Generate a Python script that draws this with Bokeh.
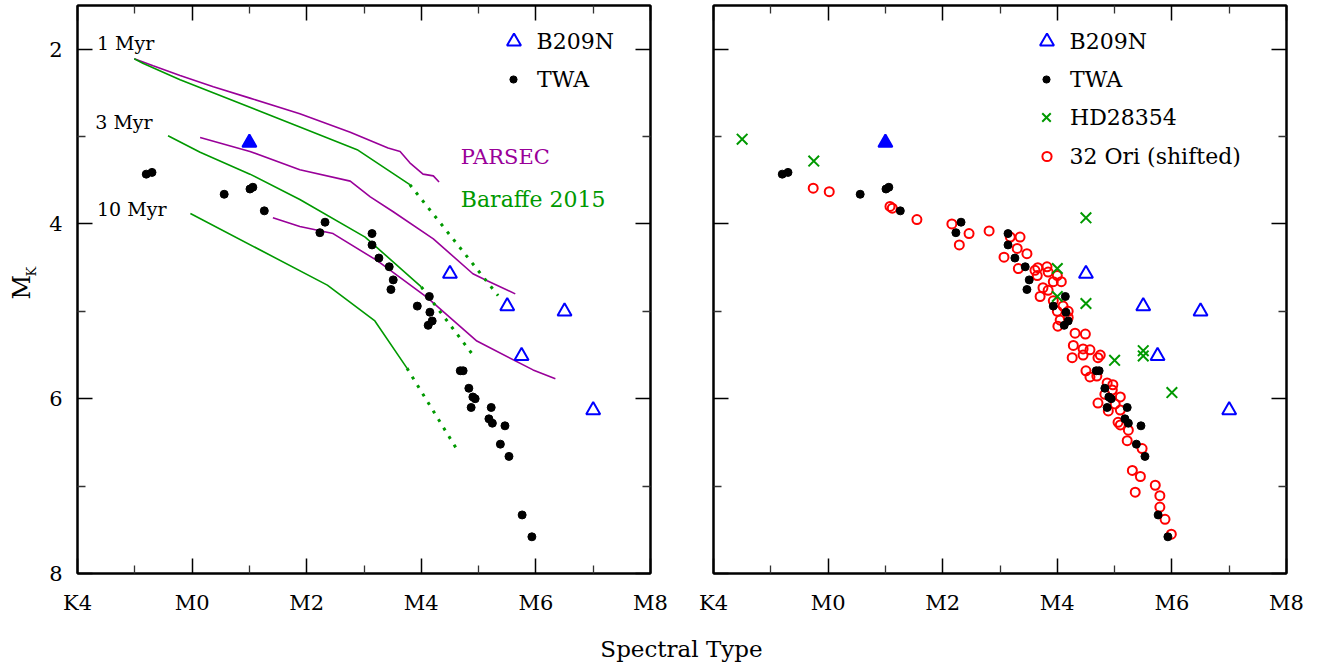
import numpy as np
from bokeh.plotting import figure
from bokeh.models import Range1d, LinearAxis, FixedTicker, Label, Legend, LegendItem
from bokeh.layouts import row, column
from bokeh.embed import file_html
from bokeh.resources import INLINE

# ---------------- data ----------------
spt_major = [-2, 0, 2, 4, 6, 8]
spt_labels = ["K4", "M0", "M2", "M4", "M6", "M8"]
spt_minor = [-1, 1, 3, 5, 7]
mk_major = [2, 4, 6, 8]
mk_labels = ["2", "4", "6", "8"]
mk_minor = [3, 5, 7]

twa_spt = [-0.80, -0.70, 0.56, 1.01, 1.06, 1.26, 2.32, 2.23, 3.14, 3.14, 3.26, 3.44, 3.51, 3.47,
           4.14, 3.93, 4.15, 4.19, 4.12, 4.68, 4.73, 4.83, 4.90, 4.94, 4.87, 5.22, 5.18, 5.24,
           5.46, 5.38, 5.53, 5.76, 5.93]
twa_mk = [3.43, 3.41, 3.66, 3.60, 3.58, 3.85, 3.98, 4.10, 4.11, 4.24, 4.39, 4.49, 4.64, 4.75,
          4.83, 4.94, 5.01, 5.11, 5.16, 5.68, 5.68, 5.88, 5.98, 6.00, 6.10, 6.10, 6.23, 6.28,
          6.31, 6.52, 6.66, 7.33, 7.58]

b209n_spt = [4.5, 5.5, 6.5, 5.75, 7.0]
b209n_mk = [4.57, 4.94, 5.0, 5.51, 6.13]
b209n_filled_spt = [1.0]
b209n_filled_mk = [3.07]

hd_spt = [-1.5, -0.25, 4.5, 4.0, 4.0, 4.5, 5.0, 5.5, 5.5, 6.0]
hd_mk = [3.03, 3.28, 3.93, 4.51, 4.83, 4.91, 5.56, 5.45, 5.51, 5.93]

ori_spt = [-0.26, 0.02, 1.08, 1.12, 1.55, 2.16, 2.46, 2.29, 2.81, 3.18, 3.35, 3.30, 3.47, 3.07,
           3.32, 3.61, 3.66, 3.65, 3.82, 3.84, 4.00, 3.93, 4.07, 3.75, 3.84, 3.70, 3.93, 4.10,
           4.00, 4.19, 4.19, 4.05, 4.01, 4.31, 4.49, 4.28, 4.45, 4.57, 4.45, 4.26, 4.75, 4.71,
           4.50, 4.57, 4.69, 4.87, 4.97, 4.96, 4.83, 5.10, 4.71, 5.01, 5.10, 4.89, 5.06, 5.10,
           5.24, 5.22, 5.48, 5.31, 5.45, 5.36, 5.71, 5.79, 5.79, 5.88, 5.99]
ori_mk = [3.59, 3.63, 3.80, 3.82, 3.95, 4.00, 4.11, 4.24, 4.08, 4.15, 4.15, 4.28, 4.34, 4.38,
          4.51, 4.53, 4.50, 4.59, 4.49, 4.55, 4.59, 4.66, 4.66, 4.73, 4.76, 4.83, 4.88, 4.94,
          5.00, 5.00, 5.07, 5.10, 5.17, 5.25, 5.26, 5.39, 5.43, 5.44, 5.50, 5.53, 5.50, 5.53,
          5.68, 5.75, 5.74, 5.82, 5.84, 5.90, 5.95, 5.98, 6.05, 6.06, 6.13, 6.14, 6.27, 6.30,
          6.36, 6.48, 6.57, 6.82, 6.89, 7.07, 6.99, 7.11, 7.24, 7.38, 7.55]

# PARSEC isochrones
parsec_1myr_spt = [-1.01, -0.68, -0.21, 0.37, 1.01, 1.88, 2.76, 2.98, 3.42, 3.63, 3.80, 4.03, 4.21, 4.31]
parsec_1myr_mk = [2.11, 2.19, 2.30, 2.43, 2.56, 2.74, 2.95, 3.01, 3.13, 3.17, 3.30, 3.43, 3.45, 3.52]
parsec_3myr_spt = [0.14, 1.01, 1.88, 2.76, 3.11, 3.51, 4.21, 4.90, 5.15, 5.64]
parsec_3myr_mk = [3.01, 3.17, 3.38, 3.51, 3.69, 3.86, 4.17, 4.57, 4.65, 4.80]
parsec_10myr_spt = [1.41, 1.88, 2.46, 3.23, 4.10, 4.97, 5.95, 6.34]
parsec_10myr_mk = [3.93, 4.03, 4.11, 4.42, 4.84, 5.34, 5.67, 5.77]

# Baraffe 2015 isochrones (solid part and dotted extension)
baraffe_1myr_spt = [-1.01, -0.86, -0.21, 1.88, 2.88, 3.80]
baraffe_1myr_mk = [2.11, 2.16, 2.35, 2.89, 3.15, 3.55]
baraffe_1myr_ext_spt = [3.80, 5.34]
baraffe_1myr_ext_mk = [3.55, 4.82]
baraffe_3myr_spt = [-0.42, 0.14, 1.01, 1.88, 3.02, 4.00]
baraffe_3myr_mk = [2.99, 3.18, 3.43, 3.72, 4.15, 4.72]
baraffe_3myr_ext_spt = [4.00, 4.89]
baraffe_3myr_ext_mk = [4.72, 5.49]
baraffe_10myr_spt = [-0.03, 2.36, 3.19, 3.75]
baraffe_10myr_mk = [3.88, 4.70, 5.11, 5.65]
baraffe_10myr_ext_spt = [3.75, 4.64]
baraffe_10myr_ext_mk = [5.65, 6.60]

# ---------------- style ----------------
FONT = "DejaVu Serif"
PURPLE = "#990099"
GREEN = "#009900"
BLUE = "#0000ff"
RED = "#ff0000"
FRAME_W = 573
FRAME_H = 572
BORDER_TOP = 5
BORDER_BOTTOM = 40
PANEL_H = BORDER_TOP + FRAME_H + BORDER_BOTTOM
FRAME_BOTTOM = BORDER_TOP + FRAME_H


def add_axis(p, side, major, minor, labels, show, standoff):
    ax = LinearAxis(
        ticker=FixedTicker(ticks=major, minor_ticks=minor),
        major_tick_in=15, major_tick_out=0, minor_tick_in=8, minor_tick_out=0,
        axis_line_width=2, axis_line_color="black",
        major_tick_line_width=1.5, minor_tick_line_width=1.3,
        major_tick_line_color="black", minor_tick_line_color="#333333",
        major_label_text_font=FONT,
    )
    if show:
        ax.major_label_text_font_size = "21px"
        ax.major_label_text_color = "black"
        ax.major_label_standoff = standoff
        ax.major_label_overrides = {k: v for k, v in zip(major, labels)}
    else:
        ax.major_label_text_font_size = "1px"
        ax.major_label_text_color = None
        ax.major_label_standoff = 0
    p.add_layout(ax, side)


def make_panel(border_left, border_right, ylabels):
    p = figure(width=border_left + FRAME_W + border_right, height=PANEL_H,
               x_range=Range1d(-2, 8), y_range=Range1d(8.0, 1.5),
               output_backend="svg", toolbar_location=None,
               x_axis_type=None, y_axis_type=None,
               min_border_left=border_left, min_border_right=border_right,
               min_border_top=BORDER_TOP, min_border_bottom=BORDER_BOTTOM)
    p.outline_line_color = "black"
    p.outline_line_width = 2
    p.background_fill_color = "white"
    p.border_fill_color = "white"
    add_axis(p, "below", spt_major, spt_minor, spt_labels, True, 17)
    add_axis(p, "above", spt_major, spt_minor, spt_labels, False, 0)
    add_axis(p, "left", mk_major, mk_minor, mk_labels, ylabels, 15)
    add_axis(p, "right", mk_major, mk_minor, mk_labels, False, 0)
    return p


def add_key(p, renderer, label, w, cx, cy):
    h = 36
    leg = Legend(items=[LegendItem(label=label, renderers=[renderer])],
                 location=(cx - w / 2.0, FRAME_BOTTOM - (cy + h / 2.0)),
                 glyph_width=w, glyph_height=h, label_height=h, label_width=20,
                 label_standoff=int(24 - w / 2.0), padding=0, margin=0, spacing=0,
                 border_line_color=None, background_fill_alpha=0,
                 label_text_font=FONT, label_text_font_size="22px", label_text_color="black")
    p.add_layout(leg)


# ---------------- y-axis title strip ----------------
P0_W = 40
p0 = figure(width=P0_W, height=PANEL_H, x_range=Range1d(0, P0_W), y_range=Range1d(0, PANEL_H),
            output_backend="svg", toolbar_location=None, x_axis_type=None, y_axis_type=None,
            min_border=0)
p0.outline_line_color = None
# positions given as distance from the strip's bottom edge
p0.add_layout(Label(x=21, y=PANEL_H - 306, text="M", angle=np.pi / 2, text_font=FONT,
                    text_font_size="24px", text_align="center", text_baseline="middle",
                    text_color="black"))
p0.add_layout(Label(x=31, y=PANEL_H - 289, text="K", angle=np.pi / 2, text_font=FONT,
                    text_font_size="13px", text_align="center", text_baseline="middle",
                    text_color="black"))

# ---------------- left panel ----------------
p1 = make_panel(77 - P0_W, 30, True)

p1.line(parsec_1myr_spt, parsec_1myr_mk, line_color=PURPLE, line_width=1.6)
p1.line(parsec_3myr_spt, parsec_3myr_mk, line_color=PURPLE, line_width=1.6)
p1.line(parsec_10myr_spt, parsec_10myr_mk, line_color=PURPLE, line_width=1.6)
p1.line(baraffe_1myr_spt, baraffe_1myr_mk, line_color=GREEN, line_width=1.6)
p1.line(baraffe_3myr_spt, baraffe_3myr_mk, line_color=GREEN, line_width=1.6)
p1.line(baraffe_10myr_spt, baraffe_10myr_mk, line_color=GREEN, line_width=1.6)
for xs, ys in [(baraffe_1myr_ext_spt, baraffe_1myr_ext_mk),
               (baraffe_3myr_ext_spt, baraffe_3myr_ext_mk),
               (baraffe_10myr_ext_spt, baraffe_10myr_ext_mk)]:
    p1.line(xs, ys, line_color=GREEN, line_width=3, line_dash="3 7")

twa1 = p1.scatter(twa_spt, twa_mk, marker="circle", size=8, fill_color="black", line_color="black")
b1 = p1.scatter(b209n_spt, b209n_mk, marker="triangle", size=14, fill_color=None,
                line_color=BLUE, line_width=2)
p1.scatter(b209n_filled_spt, b209n_filled_mk, marker="triangle", size=14, fill_color=BLUE,
           line_color=BLUE, line_width=2)

for txt, x, y, col, fs in [("1 Myr", -1.66, 1.93, "black", "19px"),
                           ("3 Myr", -1.69, 2.83, "black", "19px"),
                           ("10 Myr", -1.66, 3.83, "black", "19px"),
                           ("PARSEC", 4.69, 3.23, PURPLE, "21px"),
                           ("Baraffe 2015", 4.69, 3.72, GREEN, "22px")]:
    p1.add_layout(Label(x=x, y=y, text=txt, text_font=FONT, text_font_size=fs, text_color=col,
                        text_align="left", text_baseline="middle"))

add_key(p1, b1, "B209N", 35, 436, 45)
add_key(p1, twa1, "TWA", 18, 436, 83)

# ---------------- right panel ----------------
p2 = make_panel(33, 20, False)
ori2 = p2.scatter(ori_spt, ori_mk, marker="circle", size=9, fill_color=None, line_color=RED, line_width=2)
twa2 = p2.scatter(twa_spt, twa_mk, marker="circle", size=8, fill_color="black", line_color="black")
hd2 = p2.scatter(hd_spt, hd_mk, marker="x", size=15, line_color=GREEN, line_width=2)
b2 = p2.scatter(b209n_spt, b209n_mk, marker="triangle", size=14, fill_color=None,
                line_color=BLUE, line_width=2)
p2.scatter(b209n_filled_spt, b209n_filled_mk, marker="triangle", size=14, fill_color=BLUE,
           line_color=BLUE, line_width=2)

add_key(p2, b2, "B209N", 35, 333, 45)
add_key(p2, twa2, "TWA", 18, 333, 83)
add_key(p2, hd2, "HD28354", 30, 333, 121)
add_key(p2, ori2, "32 Ori (shifted)", 23, 333, 160)

# ---------------- common x label ----------------
total_w = P0_W + p1.width + p2.width
P3_H = 46
p3 = figure(width=total_w, height=P3_H, x_range=Range1d(0, total_w), y_range=Range1d(0, P3_H),
            output_backend="svg", toolbar_location=None, x_axis_type=None, y_axis_type=None,
            min_border=0)
p3.outline_line_color = None
p3.add_layout(Label(x=681, y=P3_H - (648 - PANEL_H), text="Spectral Type", text_font=FONT,
                    text_font_size="23px", text_align="center", text_baseline="middle",
                    text_color="black"))

layout = column(row(p0, p1, p2), p3)
open("out.html", "w").write(file_html(layout, INLINE))
